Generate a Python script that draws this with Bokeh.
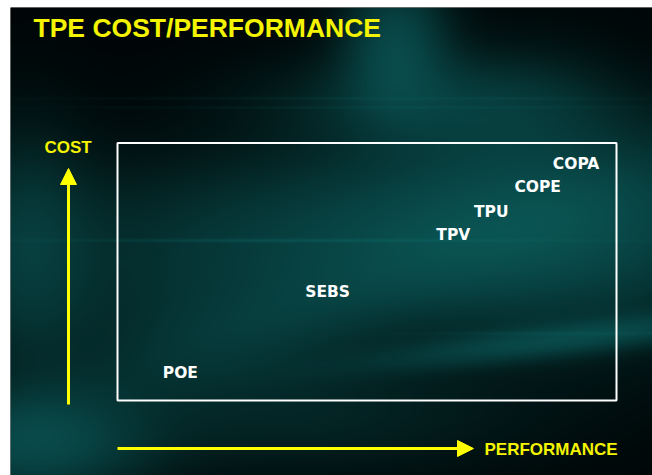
import numpy as np
from bokeh.plotting import figure
from bokeh.models import Range1d, Arrow, NormalHead, ColumnDataSource
from bokeh.core.properties import value
from bokeh.embed import file_html
from bokeh.resources import INLINE

# ---------------- data ----------------
title = "TPE COST/PERFORMANCE"
products = ["POE", "SEBS", "TPV", "TPU", "COPE", "COPA"]
performance = [1.26, 4.21, 6.73, 7.49, 8.42, 9.19]
cost = [1.05, 4.21, 6.41, 7.32, 8.29, 9.18]
x_label = "PERFORMANCE"
y_label = "COST"

# ---------------- geometry ----------------
W, H = 652, 475
FL, FT = 10, 7              # frame offset (white strip left / top)
PX0, PXS = 117.0, 49.9      # page px of performance 0 and px per unit
PY0, PYS = 400.0, 25.75     # page px of cost 0 and px per unit


def dx(px):
    return (px - PX0) / PXS


def dy(py):
    return (PY0 - py) / PYS


x0, x1 = dx(FL), dx(W)
y0, y1 = dy(H), dy(FT)
FW, FH = W - FL, H - FT

# ---------------- background ----------------
cols = FL + np.arange(FW) + 0.5
rows = H - (np.arange(FH) + 0.5)
X, Y = np.meshgrid(cols, rows)


def g(cx, cy, sx, sy, a):
    return a * np.exp(-0.5 * ((X - cx) / sx) ** 2 - 0.5 * ((Y - cy) / sy) ** 2)


def rg(cx, cy, sx, sy, ang, a):
    c, s = np.cos(ang), np.sin(ang)
    u = (X - cx) * c + (Y - cy) * s
    v = -(X - cx) * s + (Y - cy) * c
    return a * np.exp(-0.5 * (u / sx) ** 2 - 0.5 * (v / sy) ** 2)


I = np.zeros_like(X)
I += g(395, 40, 35, 45, 0.55)
I += g(450, 100, 120, 32, 0.30)
I += g(560, 215, 140, 80, 0.55)
I += g(320, 235, 190, 55, 0.38)
I += g(25, 250, 45, 80, 0.35)
I += g(35, 445, 75, 35, 0.55)
I += g(300, 420, 160, 40, 0.18)
I += g(210, 330, 120, 50, 0.22)
I += rg(570, 338, 130, 11, -0.12, 0.45)
I += rg(330, 300, 260, 30, -0.35, 0.15)
# thin horizontal streaks
I += 0.28 * np.exp(-((Y - 240) / 1.6) ** 2) * np.exp(-((X - 330) / 240) ** 2)
I += 0.12 * np.exp(-((Y - 98) / 1.2) ** 2) * np.exp(-((X - 400) / 300) ** 2)
I += 0.10 * np.exp(-((Y - 107) / 1.2) ** 2) * np.exp(-((X - 400) / 300) ** 2)
I += 0.15 * np.exp(-((Y - 333) / 1.5) ** 2) * np.exp(-((X - 560) / 120) ** 2)
# darken right top
I *= 1 - 0.6 * np.exp(-0.5 * ((X - 660) / 60) ** 2 - 0.5 * ((Y - 40) / 70) ** 2)
I = np.clip(I, 0, 1.0)
I = 1 - np.exp(-1.6 * I)

base = np.array([0, 6, 7], dtype=float)
teal = np.array([14, 105, 103], dtype=float)
rgb = base[None, None, :] + I[:, :, None] * teal[None, None, :]
rgba = np.zeros((FH, FW, 4), dtype=np.uint8)
rgba[:, :, :3] = np.clip(rgb, 0, 255).astype(np.uint8)
rgba[:, :, 3] = 255
img = rgba.view(dtype=np.uint32).reshape((FH, FW))

# ---------------- figure ----------------
p = figure(width=W, height=H, x_range=Range1d(x0, x1), y_range=Range1d(y0, y1),
           toolbar_location=None, output_backend="svg",
           min_border_left=FL, min_border_top=FT, min_border_right=0, min_border_bottom=0)
p.axis.visible = False
p.grid.visible = False
p.outline_line_color = None
p.background_fill_color = "black"
p.border_fill_color = "white"

p.image_rgba(image=[img], x=x0, y=y0, dw=x1 - x0, dh=y1 - y0)

# chart frame
p.quad(left=[0], right=[10], bottom=[0], top=[10], fill_color=None,
       line_color="white", line_width=2)

YEL = "#FFFF00"
# axes arrows
p.add_layout(Arrow(end=NormalHead(size=16, fill_color=YEL, line_color=YEL, line_width=1),
                   x_start=dx(68), y_start=dy(404), x_end=dx(68), y_end=dy(168),
                   line_color=YEL, line_width=3))
p.add_layout(Arrow(end=NormalHead(size=16, fill_color=YEL, line_color=YEL, line_width=1),
                   x_start=dx(117), y_start=dy(448), x_end=dx(473), y_end=dy(448),
                   line_color=YEL, line_width=3))

# title
p.text(x=[dx(33)], y=[dy(27.5)], text=[title], text_font=value("Liberation Sans"),
       text_font_style="bold", text_font_size="26.5px", text_color="#F4F400",
       text_baseline="middle", text_align="left")
# axis labels
p.text(x=[dx(67.5)], y=[dy(147)], text=[y_label], text_font=value("Liberation Sans"),
       text_font_style="bold", text_font_size="17px", text_color="#F4F400",
       text_baseline="middle", text_align="center")
p.text(x=[dx(484)], y=[dy(448.5)], text=[x_label], text_font=value("Liberation Sans"),
       text_font_style="bold", text_font_size="17px", text_color="#F4F400",
       text_baseline="middle", text_align="left")

# product labels
src = ColumnDataSource(dict(x=performance, y=cost, t=products))
p.text(x="x", y="y", text="t", source=src, text_font=value("DejaVu Sans"),
       text_font_style="bold", text_font_size="15.5px", text_color="white",
       text_baseline="middle", text_align="center")

open("out.html", "w").write(file_html(p, INLINE))
